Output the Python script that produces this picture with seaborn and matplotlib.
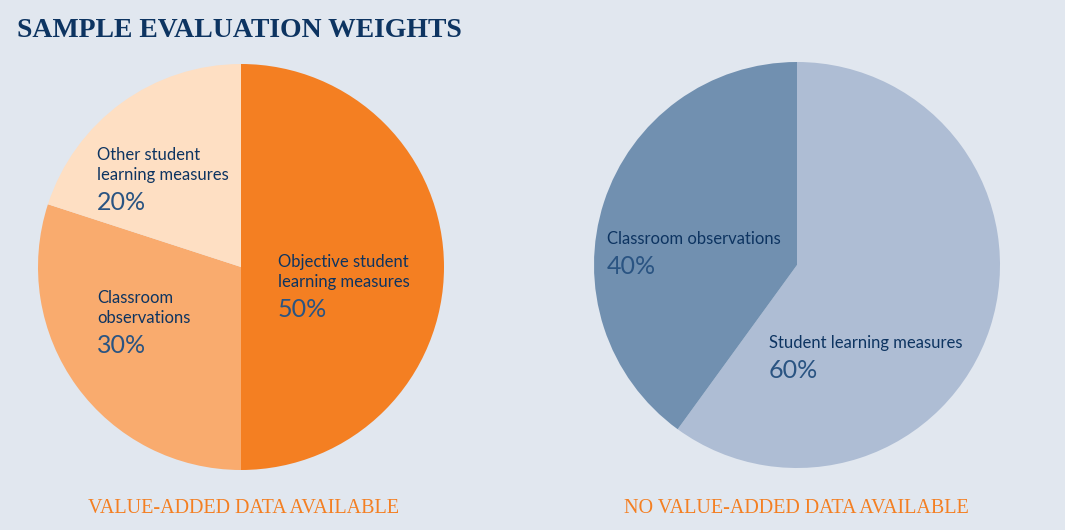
import matplotlib
matplotlib.use("Agg")
import matplotlib.pyplot as plt
import seaborn as sns

# data
left_labels = ["Objective student\nlearning measures", "Classroom\nobservations", "Other student\nlearning measures"]
left_values = [50, 30, 20]
right_labels = ["Student learning measures", "Classroom observations"]
right_values = [60, 40]
captions = ["VALUE-ADDED DATA AVAILABLE", "NO VALUE-ADDED DATA AVAILABLE"]
title = "SAMPLE EVALUATION WEIGHTS"

BG = "#E1E7EF"
NAVY = "#0D3461"
PCT = "#2A5482"
ORANGE = "#F47F22"
left_colors = ["#F47F22", "#F9AB6E", "#FEDFC3"]
right_colors = ["#AEBDD4", "#7190B0"]

sns.set_theme(style="white")
plt.rcParams["font.family"] = ["Lato", "DejaVu Sans"]

W, H = 1065, 530
fig = plt.figure(figsize=(W / 100, H / 100), dpi=100, facecolor=BG)


def px(x, y):
    return x / W, 1 - y / H


def pie_axes(cx, cy, r):
    ax = fig.add_axes([(cx - r) / W, (H - cy - r) / H, 2 * r / W, 2 * r / H])
    ax.set_facecolor(BG)
    ax.axis("off")
    return ax


ax1 = pie_axes(241, 267, 203)
ax1.pie(left_values, colors=left_colors, startangle=90, counterclock=False,
        radius=1, wedgeprops=dict(linewidth=0))
ax1.set_xlim(-1, 1)
ax1.set_ylim(-1, 1)

ax2 = pie_axes(797, 265, 203)
ax2.pie(right_values, colors=right_colors, startangle=90, counterclock=False,
        radius=1, wedgeprops=dict(linewidth=0))
ax2.set_xlim(-1, 1)
ax2.set_ylim(-1, 1)

# slice labels: (x, baseline of first line) in pixels
label_pos = [(278, 267), (97, 303), (97, 160)]
for lab, val, (x, y) in zip(left_labels, left_values, label_pos):
    lines = lab.split("\n")
    for i, ln in enumerate(lines):
        fig.text(*px(x, y + 20 * i), ln, fontsize=12, color=NAVY, va="baseline")
    fig.text(*px(x, y + 20 * (len(lines) - 1) + 30), f"{val}%", fontsize=18,
             color=PCT, va="baseline")

right_pos = [(769, 348), (607, 244)]
for lab, val, (x, y) in zip(right_labels, right_values, right_pos):
    fig.text(*px(x, y), lab, fontsize=12, color=NAVY, va="baseline")
    fig.text(*px(x, y + 30), f"{val}%", fontsize=18, color=PCT, va="baseline")

fig.text(*px(17, 37), title, fontsize=20, fontweight="bold", color=NAVY,
         va="baseline", family=["Liberation Serif", "DejaVu Serif"])

for cap, cx in zip(captions, [243, 796]):
    fig.text(*px(cx, 513), cap, fontsize=14.5, color=ORANGE, va="baseline", ha="center",
             family=["Liberation Serif", "DejaVu Serif"])

fig.savefig("out.png", dpi=100, facecolor=BG)
